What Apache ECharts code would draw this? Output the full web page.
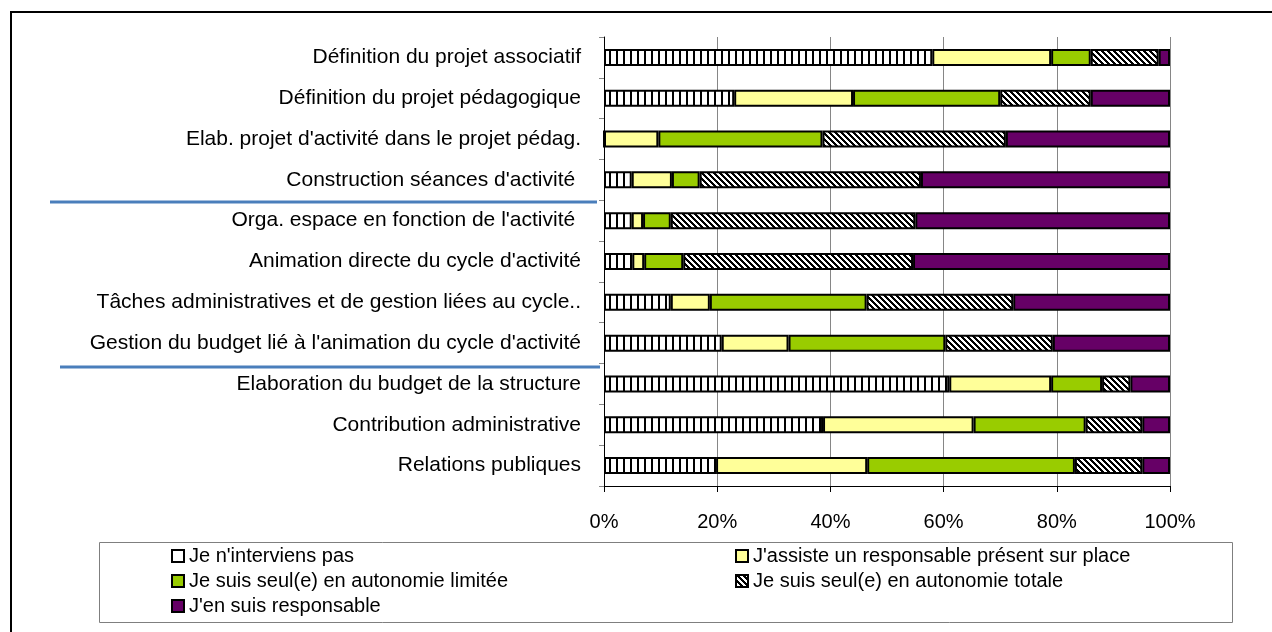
<!DOCTYPE html>
<html>
<head>
<meta charset="utf-8">
<script src="https://cdn.jsdelivr.net/npm/echarts@6/dist/echarts.min.js"></script>
<style>
  html, body { margin: 0; padding: 0; background: #fff; }
  #chart { width: 1272px; height: 632px; }
</style>
</head>
<body>
<div id="chart"></div>
<script>
// categories (top to bottom)
var categories = [
    "Définition du projet associatif",
    "Définition du projet pédagogique",
    "Elab. projet d'activité dans le projet pédag.",
    "Construction séances d'activité ",
    "Orga. espace en fonction de l'activité ",
    "Animation directe du cycle d'activité",
    "Tâches administratives et de gestion liées au cycle..",
    "Gestion du budget lié à l'animation du cycle d'activité",
    "Elaboration du budget de la structure",
    "Contribution administrative",
    "Relations publiques"
];

var seriesNames = [
    "Je n'interviens pas",
    "J'assiste un responsable présent sur place",
    "Je suis seul(e) en autonomie limitée",
    "Je suis seul(e) en autonomie totale",
    "J'en suis responsable"
];

// valeurs en %
var nonIntervention = [58, 23, 0, 4.9, 4.9, 5, 11.8, 20.8, 61, 38.7, 19.8];
var assiste = [21, 21, 9.6, 7.1, 2, 2.1, 6.9, 11.8, 18, 26.6, 26.7];
var autonomieLimitee = [7, 26, 29, 4.9, 4.9, 6.9, 27.7, 27.7, 9, 19.8, 36.7];
var autonomieTotale = [12, 16, 32.4, 39.1, 43.2, 40.6, 25.9, 19, 5, 10, 11.9];
var responsable = [2, 14, 29, 44, 45, 45.4, 27.7, 20.7, 7, 4.9, 4.9];

var xTicks = [0, 20, 40, 60, 80, 100];

var FONT = "'Liberation Sans', Arial, sans-serif";

// motif rayures verticales
function stripePattern() {
    var c = document.createElement('canvas');
    c.width = 7; c.height = 7;
    var ctx = c.getContext('2d');
    ctx.fillStyle = '#fff';
    ctx.fillRect(0, 0, 7, 7);
    ctx.fillStyle = '#000';
    ctx.fillRect(0, 0, 2, 7);
    return c;
}

// motif hachures diagonales
function hatchPattern() {
    var n = 6;
    var c = document.createElement('canvas');
    c.width = n; c.height = n;
    var ctx = c.getContext('2d');
    var img = ctx.createImageData(n, n);
    for (var y = 0; y < n; y++) {
        for (var x = 0; x < n; x++) {
            var k = ((x - y) % n + n) % n;
            var v = k < 3 ? 0 : 255;
            var i = (y * n + x) * 4;
            img.data[i] = v; img.data[i + 1] = v; img.data[i + 2] = v; img.data[i + 3] = 255;
        }
    }
    ctx.putImageData(img, 0, 0);
    return c;
}

var fills = [
    { image: stripePattern(), repeat: 'repeat' },
    '#FFFF99',
    '#99CC00',
    { image: hatchPattern(), repeat: 'repeat' },
    '#660066'
];
var values = [nonIntervention, assiste, autonomieLimitee, autonomieTotale, responsable];

var series = [];
for (var s = 0; s < seriesNames.length; s++) {
    series.push({
        name: seriesNames[s],
        type: 'bar',
        stack: 'total',
        barWidth: 17,
        data: values[s],
        itemStyle: {
            color: fills[s],
            borderColor: '#000',
            borderWidth: 2
        },
        emphasis: { disabled: true }
    });
}

var myChart = echarts.init(document.getElementById('chart'), null, { renderer: 'canvas' });

var legendText = { fontFamily: FONT, fontSize: 20, color: '#000', lineHeight: 20 };

var option = {
    animation: false,
    textStyle: { fontFamily: FONT },
    grid: { left: 604, right: 102, top: 37, height: 449, containLabel: false },
    xAxis: {
        type: 'value',
        min: 0,
        max: 100,
        interval: 20,
        axisLine: { show: true, lineStyle: { color: '#000', width: 1 } },
        axisTick: { show: true, length: 6, lineStyle: { color: '#000' } },
        axisLabel: {
            margin: 26,
            fontSize: 20,
            color: '#000',
            fontFamily: FONT,
            formatter: function (v) { return xTicks.indexOf(v) >= 0 ? v + '%' : ''; }
        },
        splitLine: { show: true, lineStyle: { color: '#868686', width: 1 } }
    },
    yAxis: {
        type: 'category',
        inverse: true,
        data: categories,
        axisLine: { show: true, lineStyle: { color: '#000', width: 1 } },
        axisTick: { show: true, length: 5, lineStyle: { color: '#868686' } },
        axisLabel: { margin: 23, fontSize: 21, color: '#000', fontFamily: FONT }
    },
    legend: [
        {
            orient: 'vertical',
            left: 171,
            top: 546,
            padding: 0,
            itemWidth: 12,
            itemHeight: 12,
            itemGap: 5,
            icon: 'rect',
            selectedMode: false,
            data: [
                { name: seriesNames[0], itemStyle: { color: '#fff' } },
                seriesNames[2],
                seriesNames[4]
            ],
            textStyle: legendText
        },
        {
            orient: 'vertical',
            left: 735,
            top: 546,
            padding: 0,
            itemWidth: 12,
            itemHeight: 12,
            itemGap: 5,
            icon: 'rect',
            selectedMode: false,
            data: [seriesNames[1], seriesNames[3]],
            textStyle: legendText
        }
    ],
    graphic: [
        // cadre extérieur
        { type: 'rect', shape: { x: 11, y: 12, width: 1300, height: 700 }, style: { fill: null, stroke: '#000', lineWidth: 2 }, silent: true },
        // cadre de la légende
        { type: 'rect', shape: { x: 99.5, y: 542.5, width: 1133, height: 80 }, style: { fill: null, stroke: '#7f7f7f', lineWidth: 1 }, silent: true },
        // séparateurs bleus
        { type: 'line', shape: { x1: 50, y1: 202, x2: 597, y2: 202 }, style: { stroke: '#4a7ebb', lineWidth: 3 }, silent: true },
        { type: 'line', shape: { x1: 60, y1: 367, x2: 600, y2: 367 }, style: { stroke: '#4a7ebb', lineWidth: 3 }, silent: true }
    ],
    series: series
};

myChart.setOption(option);
</script>
</body>
</html>
